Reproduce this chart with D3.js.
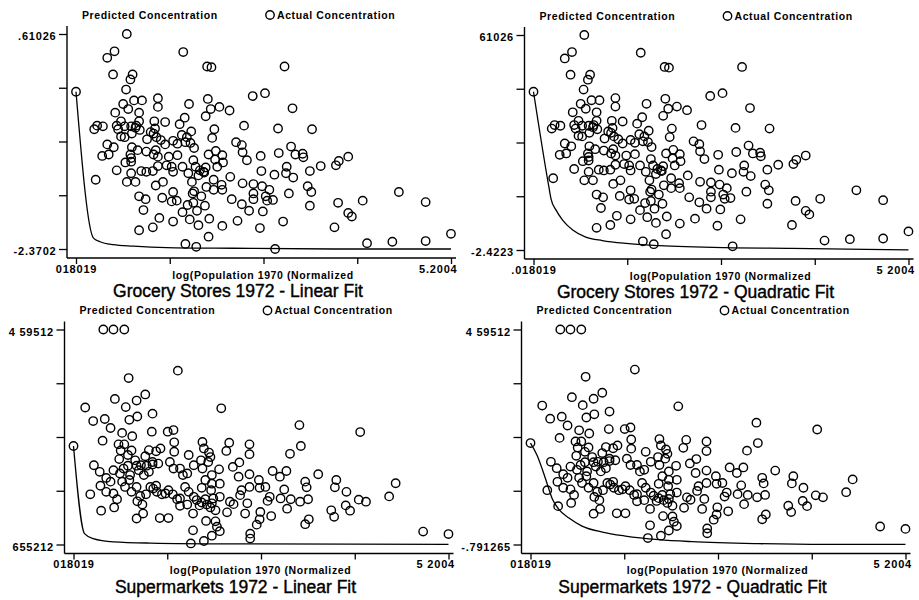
<!DOCTYPE html>
<html>
<head>
<meta charset="utf-8">
<script src="https://cdn.jsdelivr.net/npm/d3@7"></script>
<style>
  body { margin: 0; background: #fff; }
  svg { display: block; }
  text { font-family: "Liberation Sans", Arial, sans-serif; fill: #000; }
</style>
</head>
<body>
<div id="chart"></div>
<script>
// x: log(population 1970), normalized
const xDomain = [0.018019, 5.2004];

// actual concentration, grocery stores (same points in both grocery panels)
const groceryActual = [
  [0.72,0.61],[0.55,0.37],[0.45,0.28],[1.50,0.36],[1.83,0.16],[1.89,0.15],[2.90,0.16],[0.53,0.05],[0.80,0.05],[0.77,-0.02],
  [0.018,-0.19],[0.71,-0.16],[2.63,-0.21],[2.46,-0.25],[0.82,-0.31],[0.93,-0.31],[1.15,-0.28],[1.15,-0.40],[0.67,-0.36],[1.58,-0.36],
  [1.84,-0.29],[1.88,-0.43],[2.00,-0.40],[2.14,-0.45],[3.01,-0.42],[0.74,-0.43],[0.56,-0.48],[0.89,-0.48],[1.52,-0.55],[1.81,-0.53],
  [0.27,-0.71],[0.31,-0.66],[0.39,-0.67],[0.58,-0.66],[0.64,-0.60],[0.60,-0.71],[0.69,-0.67],[0.78,-0.67],[0.84,-0.69],[0.89,-0.60],
  [1.10,-0.60],[1.25,-0.61],[1.45,-0.64],[1.11,-0.70],[1.61,-0.74],[1.93,-0.71],[2.34,-0.66],[2.81,-0.70],[3.28,-0.71],[0.64,-0.81],
  [0.69,-0.82],[0.79,-0.77],[0.90,-0.72],[1.00,-0.85],[1.09,-0.77],[1.13,-0.82],[1.05,-0.75],[1.19,-0.86],[1.36,-0.87],[1.48,-0.79],
  [1.55,-0.82],[1.60,-0.90],[1.42,-0.91],[1.53,-0.89],[1.90,-0.83],[2.23,-0.89],[2.31,-0.93],[2.99,-0.95],[0.45,-0.92],[0.54,-0.96],
  [0.79,-0.96],[0.87,-1.00],[0.77,-1.06],[0.99,-1.02],[1.12,-1.00],[1.09,-1.06],[1.25,-0.92],[1.15,-1.09],[1.30,-1.09],[1.42,-1.07],
  [1.65,-0.97],[1.95,-1.01],[2.04,-1.07],[1.85,-1.06],[2.32,-1.03],[2.38,-1.14],[2.57,-1.08],[2.82,-1.04],[3.05,-1.06],[3.15,-1.05],
  [3.16,-1.10],[3.65,-1.15],[3.61,-1.21],[3.78,-1.09],[0.38,-1.08],[0.47,-1.06],[0.70,-1.17],[0.78,-1.16],[0.92,-1.29],[1.08,-1.29],
  [1.15,-1.22],[1.27,-1.21],[1.34,-1.23],[1.36,-1.30],[1.49,-1.23],[1.64,-1.14],[1.67,-1.23],[1.73,-1.28],[1.78,-1.30],[1.97,-1.23],
  [2.05,-1.17],[1.94,-1.13],[2.15,-1.37],[2.58,-1.29],[2.76,-1.34],[2.93,-1.23],[2.92,-1.32],[3.02,-1.38],[3.25,-1.29],[3.40,-1.22],
  [0.58,-1.28],[0.78,-1.32],[0.72,-1.44],[0.84,-1.44],[1.12,-1.49],[1.22,-1.44],[1.57,-1.32],[1.62,-1.44],[1.71,-1.35],[1.79,-1.31],
  [1.92,-1.41],[2.03,-1.48],[1.82,-1.51],[1.65,-1.57],[1.92,-1.55],[2.04,-1.55],[2.32,-1.46],[2.47,-1.47],[2.59,-1.50],[2.69,-1.55],
  [3.22,-1.50],[3.27,-1.58],[0.29,-1.41],[0.89,-1.64],[0.98,-1.68],[1.21,-1.66],[1.36,-1.58],[1.34,-1.71],[1.41,-1.70],[1.63,-1.60],
  [1.75,-1.64],[2.17,-1.68],[2.31,-1.75],[2.47,-1.68],[2.47,-1.60],[2.64,-1.64],[2.66,-1.70],[2.74,-1.69],[2.96,-1.60],[3.25,-1.77],
  [3.64,-1.73],[3.98,-1.70],[4.48,-1.58],[4.85,-1.72],[0.95,-1.83],[1.49,-1.86],[1.56,-1.76],[1.69,-1.84],[1.64,-1.73],[2.41,-1.84],
  [2.60,-1.85],[3.78,-1.87],[3.83,-1.92],[1.17,-1.94],[1.36,-1.99],[1.59,-1.96],[1.86,-1.95],[2.25,-1.98],[2.88,-1.99],[0.89,-2.11],
  [1.08,-2.07],[1.71,-2.04],[2.04,-2.05],[2.56,-2.08],[3.59,-2.07],[1.85,-2.20],[1.53,-2.30],[1.68,-2.34],[2.77,-2.37],[4.04,-2.29],
  [4.39,-2.27],[4.85,-2.26],[5.20,-2.16],[0.85,-0.66],[0.78,-1.11],[0.99,-1.30],[1.81,-1.24],[1.80,-1.77]
];

// actual concentration, supermarkets
const superActual = [
  [0.018,1.75],[0.43,4.595],[0.57,4.595],[0.72,4.595],[1.46,3.59],[0.78,3.41],[1.01,3.01],[0.59,2.90],[0.89,2.86],[0.74,2.70],
  [0.18,2.69],[2.06,2.67],[0.45,2.41],[0.79,2.39],[0.90,2.47],[1.11,2.54],[0.29,2.36],[0.53,2.19],[0.69,2.07],[0.83,1.99],
  [1.10,2.10],[1.32,2.10],[1.40,2.14],[3.14,2.26],[3.98,2.09],[0.42,1.88],[0.64,1.79],[0.72,1.79],[0.67,1.64],[0.82,1.64],
  [0.65,1.43],[0.77,1.53],[1.06,1.65],[1.16,1.62],[1.22,1.69],[1.01,1.50],[1.11,1.36],[1.80,1.85],[1.82,1.69],[1.89,1.59],
  [1.91,1.48],[2.17,1.83],[2.13,1.63],[2.45,1.79],[2.45,1.55],[1.41,1.84],[1.41,1.61],[1.61,1.53],[3.16,1.75],[3.01,1.56],
  [0.30,1.28],[0.38,1.12],[0.47,0.97],[0.57,1.16],[0.66,1.08],[0.77,1.27],[0.80,1.04],[0.87,1.40],[0.89,1.27],[0.92,1.16],
  [0.99,1.04],[1.03,1.27],[1.11,1.30],[1.19,1.32],[1.35,1.36],[1.40,1.20],[1.49,1.20],[1.53,1.04],[1.59,1.08],[1.68,1.28],
  [1.78,1.40],[1.80,1.20],[1.88,1.36],[1.93,1.04],[2.03,1.18],[2.22,1.24],[2.31,1.35],[2.30,1.00],[2.45,1.06],[2.58,0.92],
  [2.77,1.14],[2.87,1.00],[2.96,1.14],[3.22,0.88],[3.24,0.74],[3.40,1.06],[3.65,0.92],[4.47,0.84],[0.25,0.57],[0.39,0.78],
  [0.47,0.63],[0.57,0.59],[0.62,0.45],[0.73,0.75],[0.79,0.92],[0.89,0.75],[0.94,0.53],[1.02,0.57],[1.08,0.75],[1.12,0.71],
  [1.17,0.63],[1.24,0.57],[1.33,0.67],[1.39,0.57],[1.49,0.47],[1.56,0.75],[1.61,0.63],[1.68,0.51],[1.79,0.73],[1.92,0.67],
  [2.04,0.83],[1.95,0.47],[2.04,0.51],[2.18,0.39],[2.32,0.55],[2.45,0.75],[2.59,0.73],[2.67,0.75],[2.73,0.51],[2.93,0.69],
  [3.02,0.45],[3.15,0.39],[3.26,0.45],[3.63,0.74],[3.79,0.63],[4.38,0.52],[3.96,0.44],[4.06,0.39],[0.40,0.17],[0.58,0.25],
  [0.90,0.40],[0.97,0.32],[1.49,0.29],[1.59,0.32],[1.72,0.43],[1.79,0.37],[1.86,0.32],[1.91,0.25],[1.98,0.18],[2.14,0.13],
  [2.39,0.10],[2.42,0.35],[2.60,0.14],[2.75,0.04],[3.58,0.18],[3.78,0.30],[3.84,0.17],[3.62,0.02],[0.89,-0.02],[0.98,0.10],
  [1.21,-0.01],[1.33,-0.01],[1.67,0.10],[1.85,-0.08],[1.98,-0.09],[2.00,-0.22],[2.04,-0.33],[1.93,-0.44],[1.67,-0.31],[1.82,-0.57],
  [1.64,-0.63],[2.46,-0.39],[2.46,-0.51],[2.55,-0.17],[2.59,-0.04],[3.22,-0.16],[3.27,-0.04],[4.85,-0.34],[5.20,-0.40],[1.16,0.78],
  [1.29,0.59],[1.45,0.45],[1.76,0.30],[1.84,0.45],[1.93,0.35],[2.34,0.67],[2.70,0.41],[2.88,0.47],[2.97,0.22],[1.93,0.83],
  [1.84,0.92],[2.23,0.33],[0.53,0.88],[0.69,0.88],[0.82,0.63],[1.06,1.12],[0.95,1.28],[0.71,1.20]
];

// predicted concentration
const groceryLinearFit = [[0.018,-0.19],[0.26,-2.22],[0.35,-2.27],[0.53,-2.31],[0.81,-2.33],[1.27,-2.35],[2.19,-2.36],[3.58,-2.37],[5.20,-2.37]];
const groceryQuadFit = [[0.018,-0.19],[0.23,-1.53],[0.26,-1.70],[0.33,-1.86],[0.42,-2.00],[0.56,-2.14],[0.74,-2.24],[0.97,-2.29],[1.30,-2.33],[1.75,-2.36],[2.67,-2.39],[3.59,-2.40],[5.20,-2.42]];
const superLinearFit = [[0.018,1.75],[0.17,-0.39],[0.29,-0.51],[0.57,-0.59],[1.08,-0.62],[2.23,-0.64],[5.20,-0.65]];
const superQuadFit = [[0.018,1.75],[0.11,1.44],[0.18,1.10],[0.25,0.72],[0.32,0.35],[0.41,0.09],[0.55,-0.13],[0.73,-0.33],[1.01,-0.48],[1.33,-0.58],[1.79,-0.67],[2.25,-0.72],[3.17,-0.77],[4.10,-0.79],[5.20,-0.79]];

// y ranges and the tick labels as printed (bottom, top)
const groceryLinearY = [-2.3702, 0.61026];
const groceryQuadY = [-2.4223, 0.61026];
const superLinearY = [-0.655212, 4.59512];
const superQuadY = [-0.791265, 4.59512];
const yLabelsTL = ["-2.3702", ".61026"];
const yLabelsTR = ["-2.4223", "61026"];
const yLabelsBL = ["655212", "4 59512"];
const yLabelsBR = ["-.791265", "4 59512"];
const xLabelsTL = ["018019", "5.2004"];
const xLabelsTR = [".018019", "5 2004"];
const xLabelsB = ["018019", "5 2004"];

const titles = [
  "Grocery Stores 1972 - Linear Fit",
  "Grocery Stores 1972 - Quadratic Fit",
  "Supermarkets 1972 - Linear Fit",
  "Supermarkets 1972 - Quadratic Fit"
];
const xTitle = "log(Population 1970 (Normalized";
const legendLabels = ["Predicted Concentration", "Actual Concentration"];

const panels = [
  { title: titles[0], pts: groceryActual, fit: groceryLinearFit, yDom: groceryLinearY, yLab: yLabelsTL, xLab: xLabelsTL, dx: 0, dy: 0 },
  { title: titles[1], pts: groceryActual, fit: groceryQuadFit, yDom: groceryQuadY, yLab: yLabelsTR, xLab: xLabelsTR, dx: 457.5, dy: 1 },
  { title: titles[2], pts: superActual, fit: superLinearFit, yDom: superLinearY, yLab: yLabelsBL, xLab: xLabelsB, dx: -2.5, dy: 295.5 },
  { title: titles[3], pts: superActual, fit: superQuadFit, yDom: superQuadY, yLab: yLabelsBR, xLab: xLabelsB, dx: 454.5, dy: 295.5 }
];

const width = 919, height = 600;
const svg = d3.select("#chart").append("svg")
  .attr("width", width)
  .attr("height", height);

// panel geometry (relative to each panel)
const axisX = 67, axisY = 258;
const plotL = 76, plotR = 451, plotT = 34, plotB = 249;

panels.forEach(p => {
  const g = svg.append("g").attr("transform", `translate(${p.dx},${p.dy})`);

  const x = d3.scaleLinear().domain(xDomain).range([plotL, plotR]);
  const y = d3.scaleLinear().domain(p.yDom).range([plotB, plotT]);

  // five evenly spaced ticks, only the ends labelled
  const xTicks = d3.range(5).map(i => xDomain[0] + i * (xDomain[1] - xDomain[0]) / 4);
  const yTicks = d3.range(5).map(i => p.yDom[0] + i * (p.yDom[1] - p.yDom[0]) / 4);

  const yAxis = g.append("g")
    .attr("transform", `translate(${axisX},0)`)
    .call(d3.axisLeft(y).tickValues(yTicks).tickSize(8).tickPadding(2.5)
      .tickFormat((d, i) => i === 0 ? p.yLab[0] : i === 4 ? p.yLab[1] : ""));
  yAxis.select(".domain").remove();
  yAxis.selectAll("line").attr("stroke", "#000").attr("stroke-width", 1.3);
  yAxis.selectAll("text")
    .attr("dy", "0.5em")
    .style("font-size", "11px")
    .style("font-weight", "bold")
    .style("letter-spacing", "0.8px");

  const xAxis = g.append("g")
    .attr("transform", `translate(0,${axisY})`)
    .call(d3.axisBottom(x).tickValues(xTicks).tickSize(6).tickPadding(1)
      .tickFormat((d, i) => i === 0 ? p.xLab[0] : i === 4 ? p.xLab[1] : ""));
  xAxis.select(".domain").remove();
  xAxis.selectAll("line").attr("stroke", "#000").attr("stroke-width", 1.3);
  xAxis.selectAll("text")
    .style("font-size", "11px")
    .style("font-weight", "bold")
    .style("letter-spacing", "0.8px");
  xAxis.selectAll(".tick:last-of-type text")
    .attr("text-anchor", "end")
    .attr("x", 6);

  // axis lines
  g.append("line")
    .attr("x1", axisX).attr("x2", axisX)
    .attr("y1", 26).attr("y2", axisY)
    .attr("stroke", "#000").attr("stroke-width", 1.4);
  g.append("line")
    .attr("x1", axisX).attr("x2", 456)
    .attr("y1", axisY).attr("y2", axisY)
    .attr("stroke", "#000").attr("stroke-width", 1.4);

  // predicted line
  const line = d3.line()
    .x(d => x(d[0]))
    .y(d => y(d[1]))
    .curve(d3.curveMonotoneX);
  g.append("path")
    .datum(p.fit)
    .attr("d", line)
    .attr("fill", "none")
    .attr("stroke", "#000")
    .attr("stroke-width", 1.3);

  // actual points
  g.append("g").selectAll("circle")
    .data(p.pts)
    .join("circle")
    .attr("cx", d => x(d[0]))
    .attr("cy", d => y(d[1]))
    .attr("r", 4.2)
    .attr("fill", "none")
    .attr("stroke", "#000")
    .attr("stroke-width", 1.4);

  // legend
  g.append("text")
    .attr("x", 82).attr("y", 18.5)
    .style("font-size", "10.5px")
    .style("font-weight", "bold")
    .style("letter-spacing", "0.6px")
    .text(legendLabels[0]);
  g.append("circle")
    .attr("cx", 270).attr("cy", 15).attr("r", 4.2)
    .attr("fill", "none").attr("stroke", "#000").attr("stroke-width", 1.4);
  g.append("text")
    .attr("x", 277).attr("y", 18.5)
    .style("font-size", "10.5px")
    .style("font-weight", "bold")
    .style("letter-spacing", "0.6px")
    .text(legendLabels[1]);

  // x axis title and panel title
  g.append("text")
    .attr("x", 263).attr("y", 278.5)
    .attr("text-anchor", "middle")
    .style("font-size", "10.5px")
    .style("font-weight", "bold")
    .style("letter-spacing", "0.6px")
    .text(xTitle);
  g.append("text")
    .attr("x", 238).attr("y", 297)
    .attr("text-anchor", "middle")
    .style("font-size", "17.5px")
    .attr("stroke", "#000")
    .attr("stroke-width", 0.4)
    .text(p.title);
});
</script>
</body>
</html>
